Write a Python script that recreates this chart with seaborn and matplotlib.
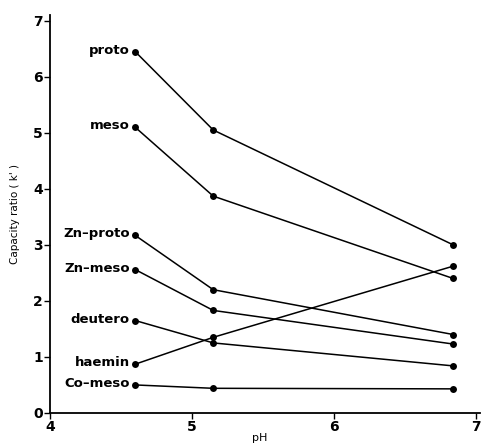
import matplotlib
matplotlib.use("Agg")
import matplotlib.pyplot as plt
import seaborn as sns
import pandas as pd

# pH values at which the capacity ratios were measured
ph = [4.6, 5.15, 6.84]

# capacity ratio k' of each porphyrin at those pH values
proto = [6.45, 5.05, 3.0]
meso = [5.1, 3.87, 2.4]
zn_proto = [3.17, 2.2, 1.4]
zn_meso = [2.56, 1.83, 1.23]
deutero = [1.65, 1.25, 0.84]
haemin = [0.87, 1.35, 2.62]
co_meso = [0.5, 0.44, 0.43]

names = ["proto", "meso", "Zn\u2013proto", "Zn\u2013meso", "deutero", "haemin", "Co\u2013meso"]
series = [proto, meso, zn_proto, zn_meso, deutero, haemin, co_meso]

rows = []
for name, vals in zip(names, series):
    for x, y in zip(ph, vals):
        rows.append({"pH": x, "k": y, "compound": name})
df = pd.DataFrame(rows)

sns.set_style("ticks", {"axes.edgecolor": "black", "text.color": "black",
                        "xtick.color": "black", "ytick.color": "black",
                        "axes.labelcolor": "black"})
plt.rcParams["font.family"] = ["DejaVu Sans"]

fig = plt.figure(figsize=(4.85, 4.45), dpi=100)
ax = fig.add_axes([0.103, 0.072, 0.887, 0.894])

sns.lineplot(data=df, x="pH", y="k", hue="compound", units="compound",
             estimator=None, palette=["black"] * len(names), marker="o",
             markersize=5, markeredgewidth=0, linewidth=1.1, legend=False, ax=ax)

for name, vals in zip(names, series):
    ax.annotate(name, (ph[0], vals[0]), xytext=(-4, 1), textcoords="offset points",
                ha="right", va="center", fontsize=9.5, fontweight="bold",
                color="black")

ax.set_xlim(4, 7.03)
ax.set_ylim(0, 7.1)
ax.set_xticks([4, 5, 6, 7])
ax.set_yticks(range(0, 8))
ax.tick_params(direction="out", length=4, width=1, labelsize=10, pad=1,
               colors="black")
for lbl in ax.get_xticklabels() + ax.get_yticklabels():
    lbl.set_fontweight("bold")

ax.set_xlabel("pH", fontsize=8, color="black")
ax.xaxis.set_label_coords(0.487, -0.05)
ax.set_ylabel("Capacity ratio ( k' )", fontsize=7.5, color="black")
ax.yaxis.set_label_coords(-0.07, 0.5)

for s in ["top", "right"]:
    ax.spines[s].set_visible(False)
for s in ["left", "bottom"]:
    ax.spines[s].set_linewidth(1.3)
    ax.spines[s].set_color("black")

fig.savefig("out.png", dpi=100)
